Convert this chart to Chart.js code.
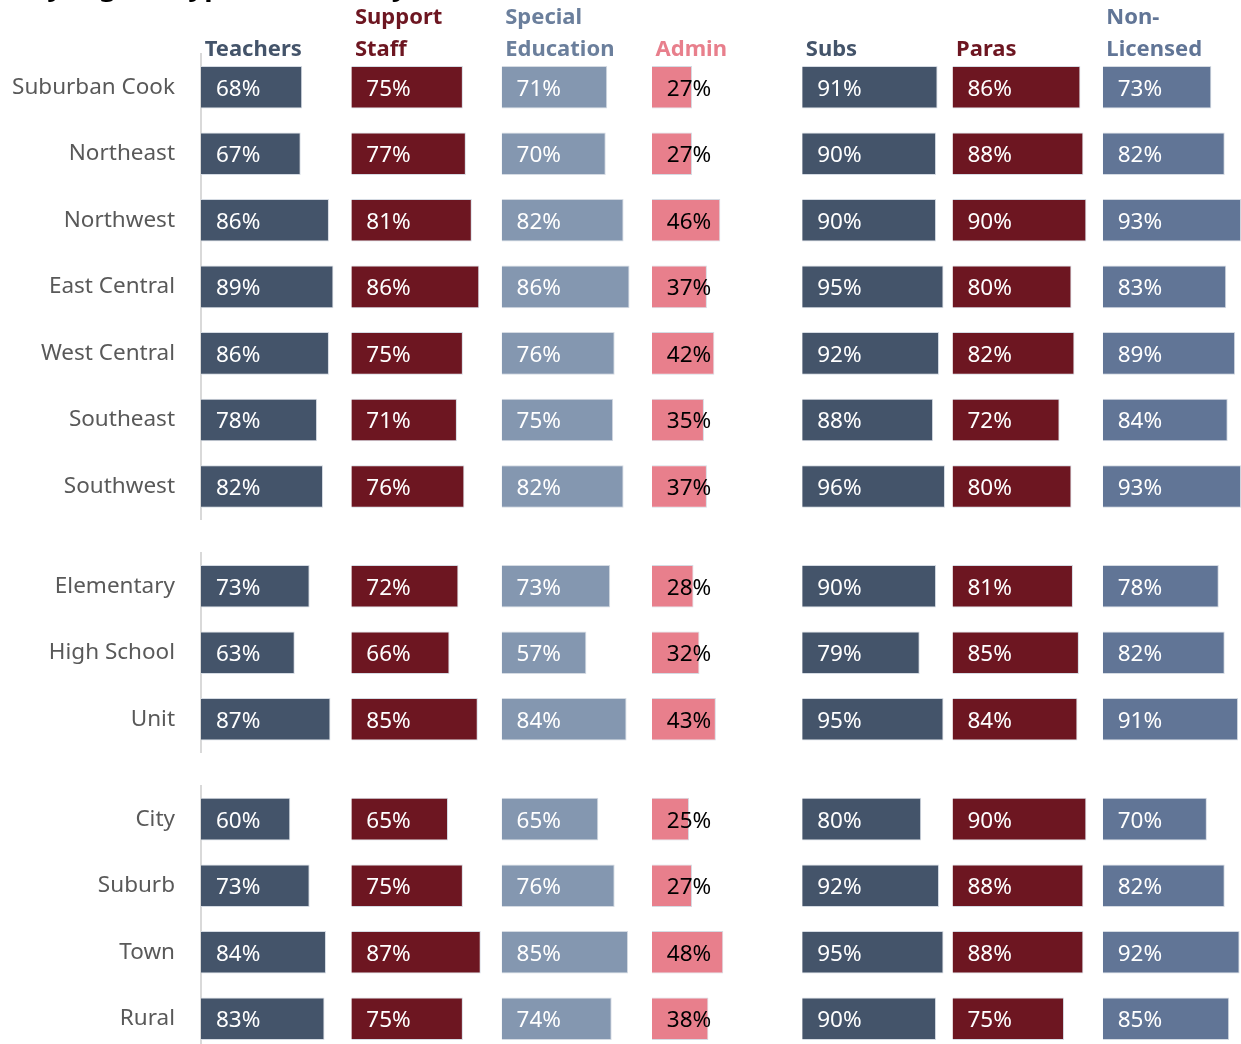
<!DOCTYPE html>
<html>
<head>
<meta charset="utf-8">
<script src="https://cdn.jsdelivr.net/npm/chart.js@4"></script>
<style>
  html, body { margin: 0; padding: 0; background: #fff; overflow: hidden; }
  #wrap { position: relative; width: 1241px; height: 1044px; overflow: hidden; }
  #canvas { position: absolute; left: 0; top: 0; }
  #title { position: absolute; left: 30px; top: -30px; font: bold 28px 'Noto Sans', sans-serif; line-height: 28px; white-space: nowrap; color: #000; }
</style>
</head>
<body>
<div id="wrap">
  <canvas id="canvas" width="1253" height="1052"></canvas>
  <div id="title">by region, type and locality</div>
</div>
<script>
// row groups
const regions = ['Suburban Cook', 'Northeast', 'Northwest', 'East Central', 'West Central', 'Southeast', 'Southwest'];
const schoolTypes = ['Elementary', 'High School', 'Unit'];
const locales = ['City', 'Suburb', 'Town', 'Rural'];
const groups = [regions, schoolTypes, locales];

// column headers (two lines each)
const columnHeaders = [
  ['', 'Teachers'],
  ['Support', 'Staff'],
  ['Special', 'Education'],
  ['', 'Admin'],
  ['', 'Subs'],
  ['', 'Paras'],
  ['Non-', 'Licensed']
];

// values in % : regions (7), school types (3), locales (4)
const teachers     = [68, 67, 86, 89, 86, 78, 82, 73, 63, 87, 60, 73, 84, 83];
const supportStaff = [75, 77, 81, 86, 75, 71, 76, 72, 66, 85, 65, 75, 87, 75];
const specialEd    = [71, 70, 82, 86, 76, 75, 82, 73, 57, 84, 65, 76, 85, 74];
const admin        = [27, 27, 46, 37, 42, 35, 37, 28, 32, 43, 25, 27, 48, 38];
const subs         = [91, 90, 90, 95, 92, 88, 96, 90, 79, 95, 80, 92, 95, 90];
const paras        = [86, 88, 90, 80, 82, 72, 80, 81, 85, 84, 90, 88, 88, 75];
const nonLicensed  = [73, 82, 93, 83, 89, 84, 93, 78, 82, 91, 70, 82, 92, 85];
const columnValues = [teachers, supportStaff, specialEd, admin, subs, paras, nonLicensed];

const barColors    = ['#44546a', '#6d1621', '#8497b0', '#e87f8c', '#44546a', '#6d1621', '#617596'];
const headerColors = ['#44546a', '#6d1621', '#6b7f9c', '#e87f8c', '#44546a', '#6d1621', '#617596'];
const labelColors  = ['#ffffff', '#ffffff', '#ffffff', '#000000', '#ffffff', '#ffffff', '#ffffff'];

const font = "'Noto Sans', sans-serif";
Chart.defaults.font.family = font;

const scales = {};

// one x axis per column, laid side by side along the top
columnHeaders.forEach((h, c) => {
  scales['x' + c] = {
    type: 'linear',
    position: 'top',
    stack: 'cols',
    stackWeight: 1,
    weight: columnHeaders.length - c,
    min: 0,
    max: 101,
    ticks: { display: false },
    grid: { display: false, drawTicks: false },
    border: { display: false },
    title: {
      display: true,
      text: h.map(l => l ? '\u2009' + l : l),
      align: 'start',
      color: headerColors[c],
      padding: { top: 2, bottom: 0 },
      font: { family: font, size: 22, weight: 'bold', lineHeight: 1.45 }
    },
    afterFit: s => { s.height = 54; s.paddingLeft = 0; s.paddingRight = 0; }
  };
});

// one y axis per row group, with small spacer axes between them
const rowAxes = ['y0', 'gap0', 'y1', 'gap1', 'y2'];
const rowWeights = [7, 0.5, 3, 0.5, 4];
rowAxes.forEach((id, k) => {
  const base = {
    position: 'left',
    stack: 'rows',
    stackWeight: rowWeights[k],
    weight: rowAxes.length - k
  };
  if (id.startsWith('gap')) {
    scales[id] = Object.assign(base, { type: 'linear', display: false });
  } else {
    const g = Number(id.slice(1));
    scales[id] = Object.assign(base, {
      type: 'category',
      labels: groups[g],
      offset: true,
      grid: { display: false, drawTicks: false },
      border: { display: true, color: '#d9d9d9', width: 2 },
      ticks: { color: '#595959', padding: 26, autoSkip: false, font: { family: font, size: 22.5 } },
      afterFit: s => { s.width = 201; s.paddingTop = 0; s.paddingBottom = 0; }
    });
  }
});

const datasets = [];
let start = 0;
groups.forEach((labels, g) => {
  columnValues.forEach((vals, c) => {
    datasets.push({
      label: columnHeaders[c].join(' ').trim(),
      data: vals.slice(start, start + labels.length),
      xAxisID: 'x' + c,
      yAxisID: 'y' + g,
      backgroundColor: barColors[c],
      borderColor: '#d5dbe3',
      borderWidth: 1,
      barPercentage: 0.64,
      categoryPercentage: 1,
      grouped: false,
      col: c
    });
  });
  start += labels.length;
});

// value labels drawn near the start of each bar
const valueLabels = {
  id: 'valueLabels',
  afterDatasetsDraw(chart) {
    const ctx = chart.ctx;
    ctx.save();
    ctx.font = '22.5px ' + font;
    ctx.textBaseline = 'middle';
    ctx.textAlign = 'left';
    chart.data.datasets.forEach((ds, i) => {
      chart.getDatasetMeta(i).data.forEach((bar, j) => {
        ctx.fillStyle = labelColors[ds.col];
        ctx.fillText(ds.data[j] + '%', bar.base + 15, bar.y + 2);
      });
    });
    ctx.restore();
  }
};

new Chart(document.getElementById('canvas').getContext('2d'), {
  type: 'bar',
  data: { datasets: datasets },
  options: {
    indexAxis: 'y',
    responsive: false,
    animation: false,
    layout: { padding: 0 },
    plugins: {
      legend: { display: false },
      tooltip: { enabled: false },
      title: { display: false }
    },
    scales: scales
  },
  plugins: [valueLabels]
});
</script>
</body>
</html>
